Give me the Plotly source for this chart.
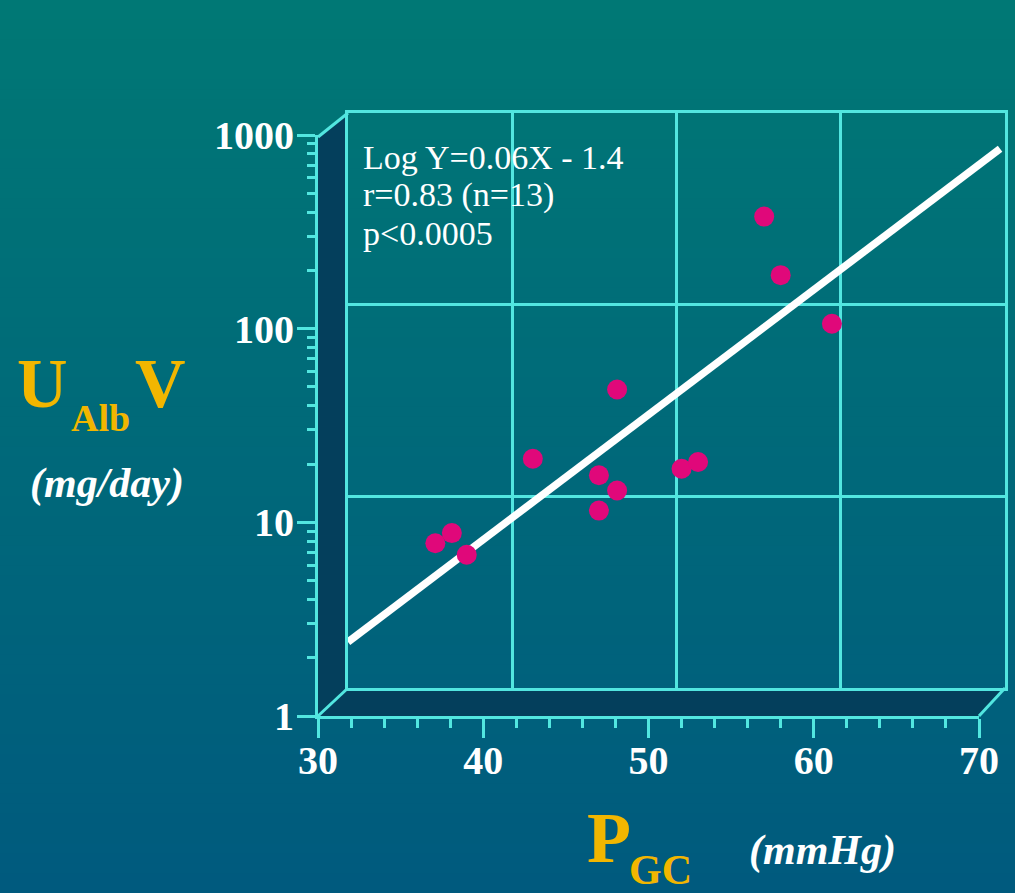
import plotly.graph_objects as go

# ---- data ----
pgc_mmhg = [37.1, 38.1, 39.0, 43.0, 48.1, 47.0, 48.1, 47.0, 52.0, 53.0, 57.0, 58.0, 61.1]
ualbv_mg_day = [7.8, 8.8, 6.8, 21.3, 48.5, 17.5, 14.6, 11.5, 18.9, 20.5, 379, 189, 106]
fit_x = [30, 69.7]
fit_y = [1.74, 650]
x_ticks = [30, 40, 50, 60, 70]
y_ticks = [1, 10, 100, 1000]
y_tick_text = ["1", "10", "100", "1000"]

W, H = 1015, 893
def PX(p):
    return p / W
def PY(p):
    return 1 - p / H

CYAN = "#52e6e0"
WALL = "#043f5c"
MAG = "#e0087a"
ORANGE = "#f2b600"
SERIF = "Liberation Serif"

fig = go.Figure()

# regression line drawn on the back wall
fig.add_trace(go.Scatter(x=fit_x, y=fit_y, mode="lines",
                         line=dict(color="white", width=7.5),
                         xaxis="x", yaxis="y", showlegend=False, hoverinfo="skip"))
# data points referenced to the front axes
fig.add_trace(go.Scatter(x=pgc_mmhg, y=ualbv_mg_day, mode="markers",
                         marker=dict(color=MAG, size=20, line=dict(width=0)),
                         xaxis="x2", yaxis="y2", showlegend=False, cliponaxis=False))

shapes = []
# background gradient
n = 90
top = (0, 120, 117)
bot = (0, 90, 126)
for i in range(n):
    t = (i + 0.5) / n
    c = tuple(int(round(top[k] + (bot[k] - top[k]) * t)) for k in range(3))
    shapes.append(dict(type="rect", xref="paper", yref="paper", x0=0, x1=1,
                       y0=1 - i / n, y1=max(0, 1 - (i + 1) / n - 0.002),
                       fillcolor="rgb(%d,%d,%d)" % c, line=dict(width=0), layer="below"))

def path(pts):
    s = "M %f,%f" % (PX(pts[0][0]), PY(pts[0][1]))
    for p in pts[1:]:
        s += " L %f,%f" % (PX(p[0]), PY(p[1]))
    return s + " Z"

# side wall and floor
shapes.append(dict(type="path", xref="paper", yref="paper",
                   path=path([(318, 137), (348, 113), (348, 688), (318, 716)]),
                   fillcolor=WALL, line=dict(width=0), layer="below"))
shapes.append(dict(type="path", xref="paper", yref="paper",
                   path=path([(318, 716), (348, 688), (1005, 688), (979, 716)]),
                   fillcolor=WALL, line=dict(width=0), layer="below"))
for (a, b) in [((318, 137), (348, 113)), ((318, 716), (348, 688)), ((979, 716), (1005, 688))]:
    shapes.append(dict(type="line", xref="paper", yref="paper",
                       x0=PX(a[0]), y0=PY(a[1]), x1=PX(b[0]), y1=PY(b[1]),
                       line=dict(color=CYAN, width=3), layer="above"))

annotations = []
def ann(text, x, y, size, color="white", xanchor="center", yanchor="middle"):
    annotations.append(dict(text=text, x=PX(x), y=PY(y), xref="paper", yref="paper",
                            showarrow=False, xanchor=xanchor, yanchor=yanchor,
                            font=dict(family=SERIF, size=size, color=color)))

# equation text
ann("Log Y=0.06X - 1.4", 361, 158, 34, xanchor="left")
ann("r=0.83 (n=13)", 361, 195, 34, xanchor="left")
ann("p<0.0005", 361, 233, 34, xanchor="left")

# y title
ann("<b>U</b>", 42, 384, 70, color=ORANGE)
ann("<b>Alb</b>", 100, 418, 38, color=ORANGE)
ann("<b>V</b>", 160, 384, 70, color=ORANGE)
ann("<b><i>(mg/day)</i></b>", 107, 483, 42)
# x title
ann("<b>P</b>", 609, 838, 72, color=ORANGE)
ann("<b>GC</b>", 660, 870, 42, color=ORANGE)
ann("<b><i>(mmHg)</i></b>", 822, 850, 42)

tickfont = dict(family=SERIF, size=40, color="white", weight="bold")

fig.update_layout(
    width=W, height=H, autosize=False,
    margin=dict(l=0, r=0, t=0, b=0, pad=0, autoexpand=False),
    paper_bgcolor="rgb(0,90,126)", plot_bgcolor="rgba(0,0,0,0)",
    shapes=shapes, annotations=annotations, showlegend=False,
    xaxis=dict(domain=[PX(348), PX(1005)], range=[30, 70], anchor="y", automargin=False,
               showgrid=True, gridcolor=CYAN, gridwidth=2.5,
               tickvals=[40, 50, 60], showticklabels=False, ticks="",
               showline=True, mirror=True, linecolor=CYAN, linewidth=3, zeroline=False),
    yaxis=dict(domain=[PY(688), PY(113)], type="log", range=[0, 3], anchor="x", automargin=False,
               showgrid=True, gridcolor=CYAN, gridwidth=2.5,
               tickvals=[10, 100], showticklabels=False, ticks="",
               showline=True, mirror=True, linecolor=CYAN, linewidth=3, zeroline=False),
    xaxis2=dict(domain=[PX(318), PX(979)], range=[30, 70], anchor="y2", automargin=False,
                showgrid=False, zeroline=False, tickvals=x_ticks,
                ticks="outside", ticklen=19, tickwidth=3, tickcolor=CYAN,
                showline=True, linecolor=CYAN, linewidth=3,
                tickfont=tickfont, ticklabelstandoff=-12,
                minor=dict(ticks="outside", ticklen=9, tickwidth=2.5, tickcolor=CYAN, dtick=2)),
    yaxis2=dict(domain=[PY(716), PY(135)], type="log", range=[0, 3], anchor="x2", automargin=False,
                showgrid=False, zeroline=False, tickvals=y_ticks, ticktext=y_tick_text,
                ticks="outside", ticklen=18, tickwidth=3, tickcolor=CYAN,
                showline=True, linecolor=CYAN, linewidth=3,
                tickfont=tickfont, ticklabelstandoff=-5,
                minor=dict(ticks="outside", ticklen=8, tickwidth=2.5, tickcolor=CYAN, dtick="D1")),
)

fig.write_html("out.html")
